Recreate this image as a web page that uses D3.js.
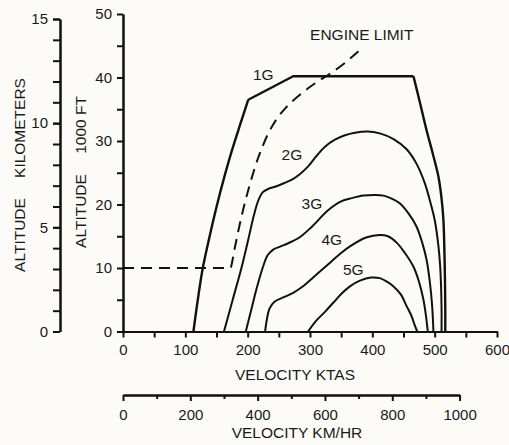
<!DOCTYPE html>
<html>
<head>
<meta charset="utf-8">
<script src="https://cdn.jsdelivr.net/npm/d3@7"></script>
<style>
  body { margin:0; background:#fcfbf7; }
  svg { display:block; }
  text { font-family:"Liberation Sans", Arial, Helvetica, sans-serif; fill:#1a1a1a; }
</style>
</head>
<body>
<svg id="chart"></svg>
<script>
// values: [velocity KTAS, altitude 1000 ft]
var gNames = ["1G", "2G", "3G", "4G", "5G"];
var g1 = [[113,0],[120,5],[128,10],[139,15],[151,20],[163,24.5],[175,28.6],[188,32.6],[201,36.5],[273,40.2],[466,40.2],[477,35.8],[487,31.7],[497,28],[506,24.4],[511,21],[514,17.6],[516,11],[517,4],[517,0]];
var g2 = [[162,0],[176,5],[190,10],[201,14.5],[210,18.3],[217,20.6],[224,21.9],[234,22.5],[244,22.8],[257,23.3],[271,23.9],[284,24.8],[297,26],[310,27.6],[324,29.1],[340,30.2],[356,30.9],[372,31.3],[392,31.5],[412,31.2],[434,30.3],[455,28.7],[471,26.4],[484,23.4],[494,20],[500,17.6],[506,13.5],[509,10],[511,4],[511,0]];
var g3 = [[197,0],[206,3.5],[215,7],[224,10],[232,12],[241,12.9],[253,13.4],[265,13.9],[283,14.8],[303,16.5],[329,19.1],[350,20.5],[367,21],[386,21.4],[404,21.5],[418,21.4],[432,20.9],[444,20.2],[458,18.6],[471,16.5],[480,14],[487,11.3],[492,8],[496,4],[498,0]];
var g4 = [[228,0],[231,2],[235,3.6],[243,4.7],[258,5.4],[273,6.1],[290,7.2],[305,8.5],[320,9.8],[334,11],[348,12.2],[364,13.4],[390,14.8],[412,15.2],[425,15],[439,14],[452,12.4],[466,10.2],[475,7.8],[482,5],[486,2.5],[489,0]];
var g5 = [[297,0],[310,1.7],[324,3.1],[338,4.6],[350,5.9],[364,7.1],[380,8],[398,8.5],[412,8.4],[424,7.8],[434,7.1],[446,5.8],[455,4],[463,2.4],[468,1],[472,0]];
var engineLimit = [[0,10],[172,10],[179,13],[186,16.3],[193,19.3],[201,22.3],[209,25],[217,27.4],[225,29.4],[233,31.2],[241,32.6],[249,33.8],[260,35.1],[271,36.2],[284,37.3],[297,38.3],[313,39.4],[329,40.4],[356,42.3],[383,44.6]];

var ktasTicks = [0,100,200,300,400,500,600];
var kmhTicks = [0,200,400,600,800,1000];
var kftTicks = [0,10,20,30,40,50];
var kmTicks = [0,5,10,15];

var screen = {width:509, height:445};

var svg = d3.select("#chart")
    .attr("width", screen.width)
    .attr("height", screen.height);

var xscale = d3.scaleLinear().domain([0,600]).range([123,497]);
var yscale = d3.scaleLinear().domain([0,50]).range([331.5,14]);
// second scales: same physical position, other units
var kmhScale = d3.scaleLinear().domain([0,1000]).range([xscale(0), xscale(1000/1.852)]);
var kmScale = d3.scaleLinear().domain([0,15]).range([yscale(0), yscale(15*3.28084)]);

var styleAxis = function(g)
    {
        g.selectAll("path, line").attr("stroke", "#111").attr("stroke-width", 2);
        g.selectAll("text").attr("font-size", 15).attr("fill", "#1a1a1a")
            .attr("font-family", "'Liberation Sans', Arial, Helvetica, sans-serif");
    };

// KTAS axis
svg.append("g").attr("transform", "translate(0,"+yscale(0)+")")
    .call(d3.axisBottom(xscale).tickValues(d3.range(50,600,100)).tickFormat("").tickSize(6).tickSizeOuter(0))
    .call(styleAxis);
svg.append("g").attr("transform", "translate(0,"+yscale(0)+")")
    .call(d3.axisBottom(xscale).tickValues(ktasTicks).tickFormat(d3.format("d")).tickSize(6).tickPadding(7).tickSizeOuter(0))
    .call(styleAxis);

// km/hr axis
svg.append("g").attr("transform", "translate(0,395)")
    .call(d3.axisBottom(kmhScale).tickValues(d3.range(100,1000,200)).tickFormat("").tickSize(4).tickSizeOuter(0))
    .call(styleAxis);
svg.append("g").attr("transform", "translate(0,395)")
    .call(d3.axisBottom(kmhScale).tickValues(kmhTicks).tickFormat(d3.format("d")).tickSize(6).tickPadding(8).tickSizeOuter(0))
    .call(styleAxis);

// 1000 ft axis
svg.append("g").attr("transform", "translate("+xscale(0)+",0)")
    .call(d3.axisLeft(yscale).tickValues(d3.range(5,50,10)).tickFormat("").tickSize(6).tickSizeOuter(0))
    .call(styleAxis);
svg.append("g").attr("transform", "translate("+xscale(0)+",0)")
    .call(d3.axisLeft(yscale).tickValues(kftTicks).tickFormat(d3.format("d")).tickSize(6).tickPadding(5).tickSizeOuter(0))
    .call(styleAxis);

// km axis
svg.append("g").attr("transform", "translate(60,0)")
    .call(d3.axisLeft(kmScale).tickValues(d3.range(0,16,1)).tickFormat("").tickSize(7).tickSizeOuter(0))
    .call(styleAxis);
svg.append("g").attr("transform", "translate(60,0)")
    .call(d3.axisLeft(kmScale).tickValues(kmTicks).tickFormat(d3.format("d")).tickSize(7).tickPadding(5).tickSizeOuter(0))
    .call(styleAxis);

// axis titles
svg.append("text").attr("x", 295).attr("y", 380).attr("text-anchor", "middle")
    .attr("font-size", 15.5).text("VELOCITY KTAS");
svg.append("text").attr("x", 297).attr("y", 438).attr("text-anchor", "middle")
    .attr("font-size", 15.5).text("VELOCITY KM/HR");

var vtitle = function(x, y, label)
    {
        svg.append("text")
            .attr("transform", "translate("+x+","+y+") rotate(-90)")
            .attr("text-anchor", "middle")
            .attr("font-size", 15.5)
            .text(label);
    };
vtitle(25, 235, "ALTITUDE");
vtitle(25, 128, "KILOMETERS");
vtitle(86, 211, "ALTITUDE");
vtitle(86, 125, "1000 FT");

// curves
var line = function(curve)
    {
        return d3.line()
            .x(function(d){ return xscale(d[0]); })
            .y(function(d){ return yscale(d[1]); })
            .curve(curve);
    };
var smooth = line(d3.curveCatmullRom.alpha(0.5));
var straight = line(d3.curveLinear);

var drawPath = function(data, gen, width)
    {
        return svg.append("path").datum(data).attr("d", gen)
            .attr("fill", "none").attr("stroke", "#111").attr("stroke-width", width)
            .attr("stroke-linejoin", "round");
    };

// 1G: curved flanks, straight shoulder and ceiling
drawPath(g1.slice(0,9), smooth, 2.4);
drawPath(g1.slice(8,11), straight, 2.4);
drawPath(g1.slice(10), smooth, 2.4);

[g2, g3, g4, g5].forEach(function(series)
    {
        drawPath(series, smooth, 2);
    });

drawPath(engineLimit, line(d3.curveMonotoneX), 2)
    .attr("stroke-dasharray", "11,7");

// labels, placed in data units
var labelAt = [[225,40.4],[271,27.8],[303,20.2],[335,14.4],[369.5,9.8]];
gNames.forEach(function(name, i)
    {
        svg.append("text")
            .attr("x", xscale(labelAt[i][0]))
            .attr("y", yscale(labelAt[i][1]))
            .attr("dy", "0.35em")
            .attr("text-anchor", "middle")
            .attr("font-size", 15.5)
            .text(name);
    });
svg.append("text")
    .attr("x", xscale(383)).attr("y", yscale(46.7)).attr("dy", "0.35em")
    .attr("text-anchor", "middle").attr("font-size", 15.5)
    .text("ENGINE LIMIT");
</script>
</body>
</html>
